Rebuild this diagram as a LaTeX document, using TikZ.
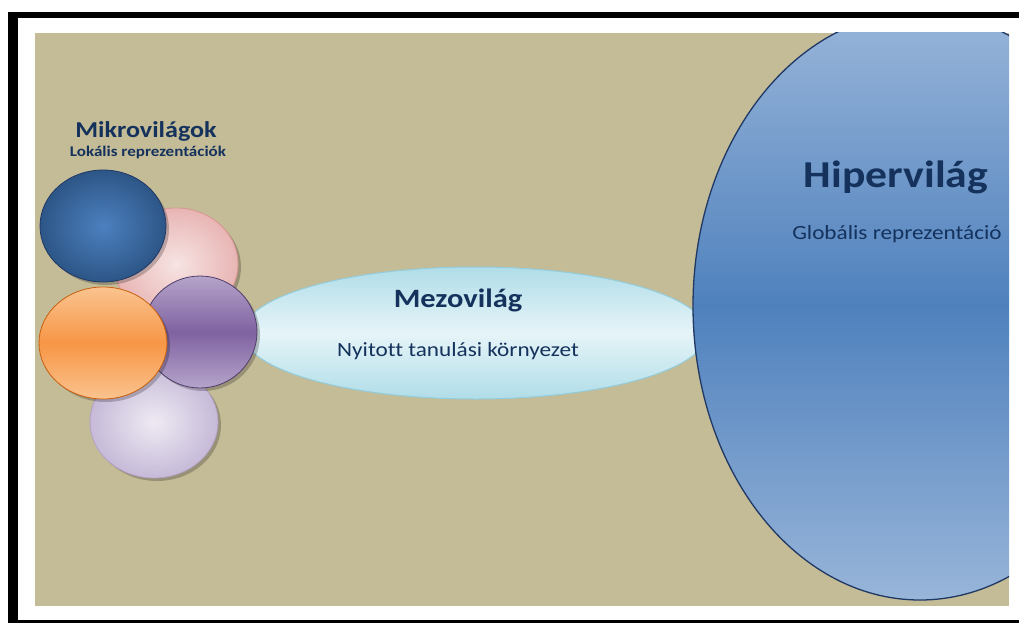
\documentclass[tikz,border=0pt]{standalone}
\usepackage{fontspec}
\setmainfont{Carlito}[FakeStretch=1.15, Ligatures=NoCommon]

\definecolor{bgtan}{HTML}{C4BB97}
\definecolor{navytext}{HTML}{14325C}
\definecolor{hiperedge}{HTML}{1F3864}
\definecolor{hiperlight}{HTML}{98B5D9}
\definecolor{hiperdark}{HTML}{4F81BD}
\definecolor{mezoedge}{HTML}{93CDDD}
\definecolor{mezolight}{HTML}{E6F4F8}
\definecolor{mezodark}{HTML}{B0DDE8}
\definecolor{pinkin}{HTML}{F6E4E3}
\definecolor{pinkout}{HTML}{E8B5B4}
\definecolor{pinkedge}{HTML}{D99694}
\definecolor{lavin}{HTML}{EEEAF3}
\definecolor{lavout}{HTML}{C6BAD8}
\definecolor{lavedge}{HTML}{B3A2C7}
\definecolor{purplight}{HTML}{B5A4CA}
\definecolor{purpdark}{HTML}{7F62A1}
\definecolor{purpedge}{HTML}{4F3D68}
\definecolor{bluein}{HTML}{4C80BF}
\definecolor{blueout}{HTML}{2D5687}
\definecolor{orglight}{HTML}{FAC38F}
\definecolor{orgdark}{HTML}{F79646}
\definecolor{orgedge}{HTML}{C9600F}

\begin{document}
\begin{tikzpicture}[x=1pt, y=-1pt,
		worldtitle/.style={text=navytext, font=\bfseries\fontsize{22.7}{27}\selectfont, inner sep=0pt, anchor=base},
		worldtext/.style={text=navytext, font=\fontsize{20.2}{24}\selectfont, inner sep=0pt, anchor=base},
		smallball/.style={line width=0.8pt},
		ballshadow/.style={fill=black, opacity=0.22}]
		\useasboundingbox (0,0) rectangle (1019,623);
		\fill[white] (0,0) rectangle (1019,623);
		
		% frame
		\fill[black] (8,12) rectangle (1019,18);
		\fill[black] (8,12) rectangle (18,623);
		\fill[black] (8,620) rectangle (1019,623);
		\fill[bgtan] (35,33) rectangle (1009,606);
		
		% mezovilag
		\shade[top color=mezodark, bottom color=mezodark, middle color=mezolight, draw=mezoedge, line width=1pt]
			(475,333) ellipse [x radius=232, y radius=66];
		
		% hipervilag
		\begin{scope}
			\clip (35,33) rectangle (1009,606);
			\shade[top color=hiperlight, bottom color=hiperlight, middle color=hiperdark, draw=hiperedge, line width=1.3pt]
				(920,306) ellipse [x radius=227, y radius=294];
		\end{scope}
		
		% mikrovilagok
		\fill[ballshadow] (179,267) ellipse [x radius=62, y radius=56];
		\shade[inner color=pinkin, outer color=pinkout, draw=pinkedge, smallball]
			(176,264) ellipse [x radius=62, y radius=56];
		\fill[ballshadow] (157,425) ellipse [x radius=64, y radius=56];
		\shade[inner color=lavin, outer color=lavout, draw=lavedge, smallball]
			(154,422) ellipse [x radius=64, y radius=56];
		\fill[ballshadow] (203,335) ellipse [x radius=57, y radius=56];
		\shade[top color=purplight, bottom color=purplight, middle color=purpdark, draw=purpedge, smallball]
			(200,332) ellipse [x radius=57, y radius=56];
		\fill[ballshadow] (106,229) ellipse [x radius=63, y radius=56];
		\shade[inner color=bluein, outer color=blueout, draw=hiperedge, smallball]
			(103,226) ellipse [x radius=63, y radius=56];
		\fill[ballshadow] (106,346) ellipse [x radius=64, y radius=56];
		\shade[top color=orglight, bottom color=orglight, middle color=orgdark, draw=orgedge, smallball]
			(103,343) ellipse [x radius=64, y radius=56];
		
		% labels
		\node[worldtitle] (mikro) at (146,137) {Mikrovilágok};
		\node[worldtitle, font=\bfseries\fontsize{14.8}{18}\selectfont] (lokalis) at (148,156) {Lokális reprezentációk};
		\node[worldtitle, font=\bfseries\fontsize{26.5}{31}\selectfont] (mezo) at (458,307) {Mezovilág};
		\node[worldtext] (nyitott) at (458,356) {Nyitott tanulási környezet};
		\node[worldtitle, font=\bfseries\fontsize{38}{44}\selectfont] (hiper) at (896,187) {Hipervilág};
		\node[worldtext] (globalis) at (897,239) {Globális reprezentáció};
	\end{tikzpicture}
\end{document}
